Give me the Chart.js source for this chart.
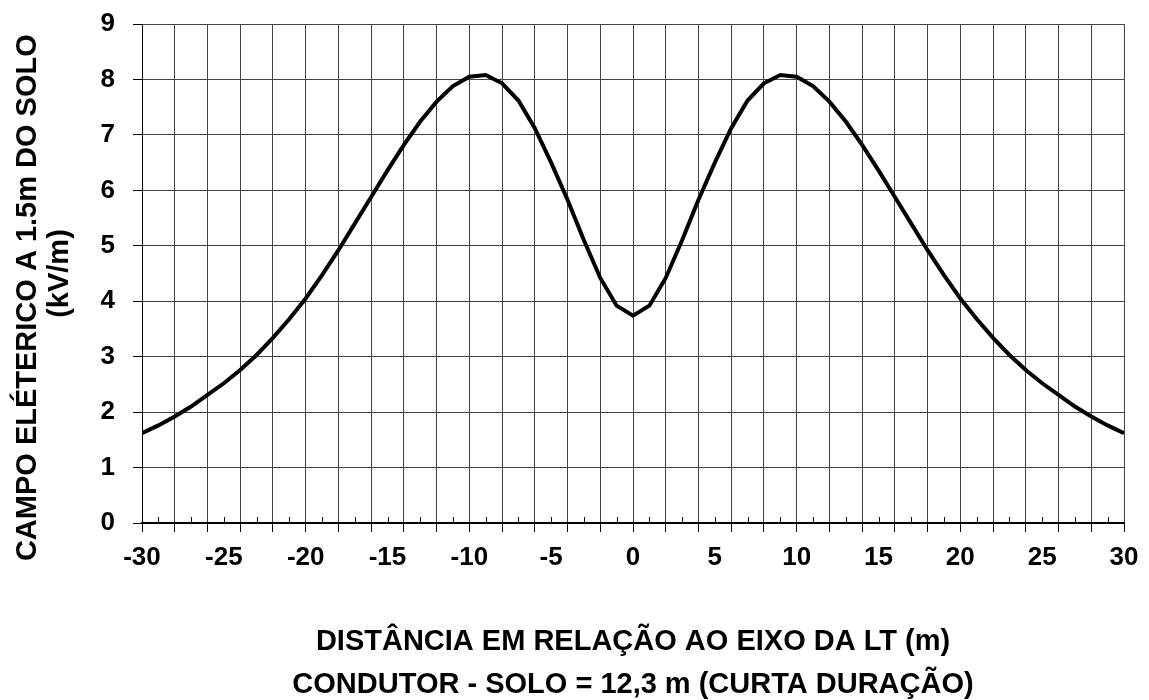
<!DOCTYPE html>
<html lang="pt">
<head>
<meta charset="utf-8">
<script src="https://cdn.jsdelivr.net/npm/chart.js@4/dist/chart.umd.min.js"></script>
<style>
  html, body { margin: 0; padding: 0; background: #fff; }
  #wrap { width: 1149px; height: 700px; }
</style>
</head>
<body>
<div id="wrap"><canvas id="chart"></canvas></div>
<script>
// distancia ao eixo da LT (m)
var distances = [];
for (var d = -30; d <= 30; d++) distances.push(d);

var campo = [
  1.62, 1.76, 1.92, 2.10, 2.31, 2.52, 2.76, 3.03, 3.34, 3.68,
  4.05, 4.47, 4.92, 5.40, 5.88, 6.36, 6.82, 7.24, 7.60, 7.88,
  8.05, 8.08, 7.93, 7.62, 7.12, 6.50, 5.83, 5.10, 4.42, 3.92,
  3.74,
  3.92, 4.42, 5.10, 5.83, 6.50, 7.12, 7.62, 7.93, 8.08, 8.05,
  7.88, 7.60, 7.24, 6.82, 6.36, 5.88, 5.40, 4.92, 4.47, 4.05,
  3.68, 3.34, 3.03, 2.76, 2.52, 2.31, 2.10, 1.92, 1.76, 1.62
];

// trailing spaces push the first line a little lower, as in the original
var yTitle = ['CAMPO ELÉTERICO A 1.5m DO SOLO      ', '(kV/m)'];
var xTitle = ['DISTÂNCIA EM RELAÇÃO AO EIXO DA LT (m)', 'CONDUTOR - SOLO = 12,3 m (CURTA DURAÇÃO)'];

var points = distances.map(function (x, i) { return { x: x, y: campo[i] }; });

var fontFamily = "'Liberation Sans', Arial, sans-serif";

// small ticks inside the plot at the odd x values
var minorTicks = {
  id: 'minorTicks',
  afterDatasetsDraw: function (chart) {
    var xs = chart.scales.x, ctx = chart.ctx;
    var bottom = chart.chartArea.bottom;
    ctx.save();
    ctx.strokeStyle = '#000';
    ctx.lineWidth = 1;
    for (var v = -29; v <= 29; v += 2) {
      var px = Math.round(xs.getPixelForValue(v)) + 0.5;
      ctx.beginPath();
      ctx.moveTo(px, bottom);
      ctx.lineTo(px, bottom - 6);
      ctx.stroke();
    }
    ctx.restore();
  }
};

new Chart(document.getElementById('chart'), {
  type: 'line',
  data: {
    datasets: [{
      data: points,
      borderColor: '#000',
      borderWidth: 4,
      pointRadius: 0,
      tension: 0,
      fill: false
    }]
  },
  options: {
    responsive: true,
    maintainAspectRatio: false,
    animation: false,
    layout: { padding: { top: 24, right: 25, left: 0, bottom: 0 } },
    plugins: { legend: { display: false }, tooltip: { enabled: false } },
    scales: {
      x: {
        type: 'linear',
        min: -30, max: 30,
        afterFit: function (s) { s.height = 177; },
        border: { color: '#000', width: 2 },
        grid: {
          color: function (c) { return c.tick && c.tick.value % 2 === 0 ? '#444' : 'rgba(0,0,0,0)'; },
          tickColor: function (c) { return c.tick && c.tick.value % 2 === 0 ? '#000' : 'rgba(0,0,0,0)'; },
          tickLength: 9,
          lineWidth: 1
        },
        ticks: {
          stepSize: 1,
          autoSkip: false,
          maxRotation: 0,
          padding: 10,
          color: '#000',
          font: { family: fontFamily, size: 26, weight: 'bold' },
          callback: function (v) { return v % 5 === 0 ? String(v) : ''; }
        },
        title: {
          display: true,
          text: xTitle,
          color: '#000',
          font: { family: fontFamily, size: 29, weight: 'bold', lineHeight: 1.48 },
          padding: { top: 0, bottom: -6 }
        }
      },
      y: {
        min: 0, max: 9,
        afterFit: function (s) {
          s.width = 142;
          s.paddingTop = 0;
          s.paddingBottom = 0;
        },
        border: { color: '#000', width: 1 },
        grid: { color: '#444', tickColor: '#000', tickLength: 9, lineWidth: 1 },
        ticks: {
          stepSize: 1,
          padding: 18,
          color: '#000',
          font: { family: fontFamily, size: 26, weight: 'bold' }
        },
        title: {
          display: true,
          text: yTitle,
          color: '#000',
          font: { family: fontFamily, size: 29, weight: 'bold', lineHeight: 1.1 },
          padding: { top: 12, bottom: 0 }
        }
      }
    }
  },
  plugins: [minorTicks]
});
</script>
</body>
</html>
